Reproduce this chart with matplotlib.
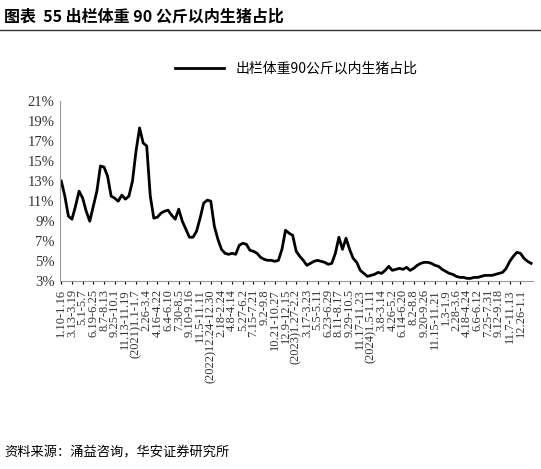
import matplotlib
matplotlib.use("Agg")
import matplotlib.pyplot as plt
from matplotlib.ticker import FuncFormatter

plt.rcParams['font.family'] = ['Liberation Serif', 'Noto Sans CJK SC', 'DejaVu Sans']

values = [13, 11.5, 9.5, 9.2, 10.5, 12, 11.3, 10, 9, 10.5, 12, 14.5, 14.4, 13.5, 11.5, 11.3, 11, 11.6, 11.2, 11.5,
          13, 16, 18.3, 16.8, 16.5, 11.5, 9.3, 9.4, 9.8, 10, 10.1, 9.6, 9.2, 10.2, 9, 8.2, 7.4, 7.4, 8, 9.3,
          10.8, 11.1, 11, 8.5, 7.2, 6.2, 5.8, 5.7, 5.8, 5.7, 6.6, 6.8, 6.7, 6.1, 6, 5.8, 5.4, 5.2, 5.1, 5.1,
          5, 5.1, 6.2, 8.1, 7.8, 7.6, 6, 5.5, 5.1, 4.6, 4.8, 5, 5.1, 5, 4.9, 4.7, 4.8, 5.8, 7.4, 6.2,
          7.3, 6.2, 5.3, 4.9, 4.1, 3.8, 3.5, 3.6, 3.7, 3.9, 3.8, 4.1, 4.5, 4.1, 4.2, 4.3, 4.2, 4.4, 4.1, 4.3,
          4.6, 4.8, 4.9, 4.9, 4.8, 4.6, 4.5, 4.2, 4, 3.8, 3.7, 3.5, 3.4, 3.4, 3.3, 3.3, 3.4, 3.4, 3.5, 3.6,
          3.6, 3.6, 3.7, 3.8, 3.9, 4.3, 5, 5.5, 5.9, 5.8, 5.3, 5, 4.8]
tick_labels = ["1.10-1.16", "3.13-3.19", "5.1-5.7", "6.19-6.25", "8.7-8.13", "9.25-10.1", "11.13-11.19",
               "(2021)1.1-1.7", "2.26-3.4", "4.16-4.22", "6.4-6.10", "7.30-8.5", "9.10-9.16", "11.5-11.11",
               "(2022)12.24-12.30", "2.18-2.24", "4.8-4.14", "5.27-6.2", "7.15-7.21", "9.2-9.8",
               "10.21-10.27", "12.9-12.15", "(2023)1.27-2.2", "3.17-3.23", "5.5-5.11", "6.23-6.29",
               "8.11-8.17", "9.29-10.5", "11.17-11.23", "(2024)1.5-1.11", "3.8-3.14", "4.26-5.2",
               "6.14-6.20", "8.2-8.8", "9.20-9.26", "11.15-11.21", "1.3-1.9", "2.28-3.6", "4.18-4.24",
               "6.6-6.12", "7.25-7.31", "9.12-9.18", "11.7-11.13", "12.26-1.1"]
series_name = "出栏体重90公斤以内生猪占比"

fig = plt.figure(figsize=(5.41, 4.69), dpi=100)
fig.text(0.008, 0.965, "图表  55 出栏体重 90 公斤以内生猪占比", fontsize=11.5, fontweight='bold',
         family=['Noto Sans CJK SC'], va='center')
fig.add_artist(plt.Line2D([0, 1], [0.935, 0.935], color='#333333', lw=1))
fig.text(0.008, 0.035, "资料来源：涌益咨询，华安证券研究所", fontsize=9.5, family=['Noto Sans CJK SC'], va='center')

ax = fig.add_axes([0.11, 0.40, 0.875, 0.385])
x = list(range(len(values)))
ax.plot(x, values, color='black', lw=2, label=series_name)
ax.set_ylim(3, 21)
ax.set_yticks([3, 5, 7, 9, 11, 13, 15, 17, 19, 21])
ax.yaxis.set_major_formatter(FuncFormatter(lambda v, p: f"{int(v)}%"))
ax.set_xlim(-0.5, len(values) - 0.5)
ax.set_xticks(list(range(0, 3 * len(tick_labels), 3)))
ax.set_xticklabels(tick_labels, rotation=90, fontsize=9, color='#333333')
ax.tick_params(axis='y', labelsize=10.5, length=0, colors='#333333')
ax.tick_params(axis='x', length=2)
for s in ['top', 'right']:
    ax.spines[s].set_visible(False)
ax.spines['left'].set_color('#999999')
ax.spines['bottom'].set_color('#999999')
leg = ax.legend(loc='lower center', bbox_to_anchor=(0.5, 1.07), frameon=False,
                prop={'family': ['Noto Sans CJK SC'], 'size': 10}, handlelength=3.5)
fig.savefig("out.png", dpi=100)
